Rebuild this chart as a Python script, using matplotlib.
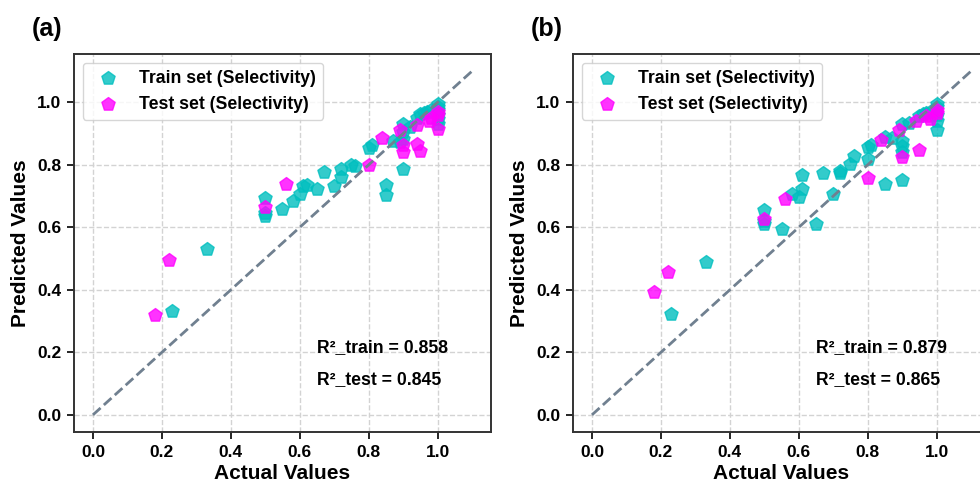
import matplotlib.pyplot as plt

plt.rcParams['font.family'] = ['Liberation Sans', 'DejaVu Sans']
plt.rcParams['font.weight'] = 'bold'

# panel (a)
train_a_x = [0.23, 0.33, 0.50, 0.50, 0.50, 0.55, 0.58, 0.60, 0.61, 0.62, 0.65, 0.67, 0.70,
             0.72, 0.72, 0.75, 0.76, 0.80, 0.81, 0.85, 0.85, 0.87, 0.89, 0.90, 0.90, 0.90,
             0.90, 0.92, 0.94, 0.95, 0.96, 0.97, 0.98, 1.00, 1.00, 1.00, 1.00, 1.00, 1.00]
train_a_y = [0.332, 0.530, 0.695, 0.645, 0.635, 0.658, 0.685, 0.708, 0.733, 0.737, 0.724,
             0.778, 0.731, 0.760, 0.788, 0.800, 0.796, 0.853, 0.865, 0.736, 0.703, 0.876,
             0.872, 0.788, 0.932, 0.905, 0.884, 0.920, 0.950, 0.962, 0.965, 0.968, 0.975,
             0.996, 0.985, 0.975, 0.960, 0.948, 0.932]
test_a_x = [0.18, 0.22, 0.50, 0.56, 0.80, 0.84, 0.89, 0.90, 0.90, 0.94, 0.95, 0.94,
            0.975, 1.00, 1.00, 1.00, 0.98]
test_a_y = [0.318, 0.495, 0.665, 0.740, 0.800, 0.887, 0.913, 0.863, 0.842, 0.868, 0.845,
            0.927, 0.942, 0.916, 0.970, 0.960, 0.950]

# panel (b)
train_b_x = [0.23, 0.33, 0.50, 0.50, 0.50, 0.55, 0.58, 0.60, 0.61, 0.61, 0.65, 0.67, 0.70,
             0.72, 0.72, 0.75, 0.76, 0.80, 0.80, 0.81, 0.85, 0.85, 0.87, 0.90, 0.90, 0.90,
             0.90, 0.90, 0.92, 0.95, 0.96, 0.97, 0.98, 1.00, 1.00, 1.00, 1.00, 1.00]
train_b_y = [0.322, 0.490, 0.655, 0.620, 0.612, 0.596, 0.706, 0.697, 0.722, 0.769, 0.612,
             0.774, 0.708, 0.775, 0.780, 0.804, 0.828, 0.820, 0.857, 0.865, 0.738, 0.889,
             0.887, 0.753, 0.841, 0.859, 0.878, 0.930, 0.935, 0.958, 0.962, 0.965, 0.970,
             0.996, 0.985, 0.960, 0.940, 0.913]
test_b_x = [0.18, 0.22, 0.50, 0.56, 0.80, 0.84, 0.89, 0.90, 0.95, 0.94, 0.97, 1.00,
            1.00, 0.98]
test_b_y = [0.394, 0.458, 0.627, 0.692, 0.758, 0.879, 0.913, 0.825, 0.849, 0.942, 0.955,
            0.965, 0.975, 0.948]

panels = [
    ("(a)", train_a_x, train_a_y, test_a_x, test_a_y, 0.858, 0.845),
    ("(b)", train_b_x, train_b_y, test_b_x, test_b_y, 0.879, 0.865),
]

fig = plt.figure(figsize=(9.8, 4.86), dpi=100)
lefts = [0.0755, 0.5847]

for left, (tag, trx, tr_y, tex, te_y, r2_tr, r2_te) in zip(lefts, panels):
    ax = fig.add_axes([left, 0.111, 0.4255, 0.778])
    ax.scatter(trx, tr_y, marker='p', s=100, color='c', alpha=0.8, label='Train set (Selectivity)')
    ax.scatter(tex, te_y, marker='p', s=100, color='magenta', alpha=0.8, label='Test set (Selectivity)')
    ax.plot([0, 1.1], [0, 1.1], '--', color='slategray', lw=2)
    ax.set_xlim(-0.055, 1.155)
    ax.set_ylim(-0.055, 1.155)
    ax.set_xticks([0, 0.2, 0.4, 0.6, 0.8, 1.0])
    ax.set_yticks([0, 0.2, 0.4, 0.6, 0.8, 1.0])
    ax.grid(True, ls='--', color='lightgray', lw=1)
    ax.set_axisbelow(True)
    ax.tick_params(labelsize=12.5, width=1.2, length=5, pad=4)
    for sp in ax.spines.values():
        sp.set_linewidth(1.4)
        sp.set_color('#333333')
    ax.set_xlabel('Actual Values', fontsize=15, fontweight='bold', labelpad=3)
    ax.set_ylabel('Predicted Values', fontsize=15, fontweight='bold', labelpad=5)
    ax.legend(loc='upper left', prop={'weight': 'bold', 'size': 12.7})
    ax.text(0.65, 0.2, f'R²_train = {r2_tr:.3f}', fontsize=12.7, fontweight='bold')
    ax.text(0.65, 0.1, f'R²_test = {r2_te:.3f}', fontsize=12.7, fontweight='bold')
    fig.text(left - 0.043, 0.94, tag, fontsize=18, fontweight='bold', va='center')

fig.savefig('out.png', dpi=100)
